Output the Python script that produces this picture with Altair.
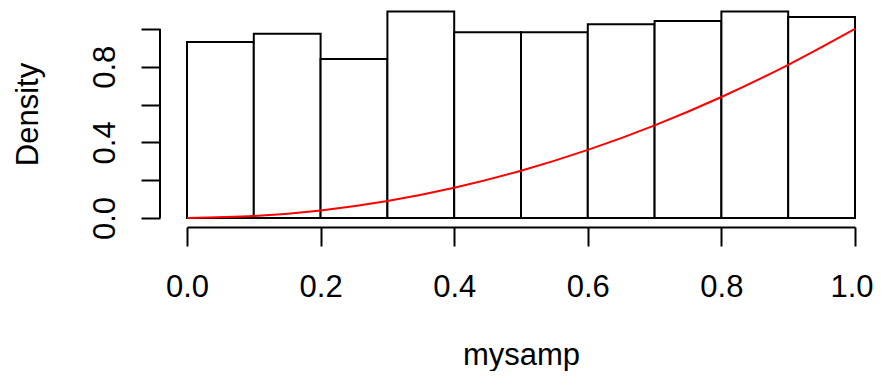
import altair as alt
import pandas as pd

# Histogram bins (density)
bin_start = [0.0, 0.1, 0.2, 0.3, 0.4, 0.5, 0.6, 0.7, 0.8, 0.9]
bin_end = [0.1, 0.2, 0.3, 0.4, 0.5, 0.6, 0.7, 0.8, 0.9, 1.0]
density = [0.931, 0.974, 0.841, 1.092, 0.982, 0.982, 1.024, 1.042, 1.092, 1.063]

# Red curve points
curve_x = [0.0, 0.1, 0.2, 0.3, 0.4, 0.5, 0.6, 0.7, 0.8, 0.9, 1.0]
curve_y = [0.0, 0.01, 0.04, 0.09, 0.16, 0.25, 0.36, 0.49, 0.64, 0.81, 1.0]

x_ticks = [0.0, 0.2, 0.4, 0.6, 0.8, 1.0]
y_ticks = [0.0, 0.2, 0.4, 0.6, 0.8, 1.0]

FONT = "Liberation Sans"
FS = 31

hist_df = pd.DataFrame({"start": bin_start, "end": bin_end, "density": density})
curve_df = pd.DataFrame({"x": curve_x, "y": curve_y})
yaxis_df = pd.DataFrame({"y0": [0.0], "y1": [1.0]})

xscale = alt.Scale(domain=[0, 1], nice=False, zero=False)
yscale = alt.Scale(domain=[0, 1.1], nice=False)

x_axis = alt.Axis(
    values=x_ticks, format=".1f", offset=9, tickSize=19, tickWidth=2,
    domainWidth=2, domainColor="black", tickColor="black", grid=False,
    labelFont=FONT, labelFontSize=FS, labelColor="black",
    labelBaseline="alphabetic", labelPadding=50, labelFlush=False,
    labelOverlap=False,
    labelOffset={"condition": {"test": "datum.value >= 0.99", "value": -3.5}, "value": 0},
    title="mysamp", titleFont=FONT, titleFontSize=FS,
    titleFontWeight="normal", titleColor="black", titleBaseline="alphabetic",
    titleX=334, titleY=137,
)

y_axis = alt.Axis(
    values=y_ticks, offset=27, tickSize=19, tickWidth=2, tickColor="black",
    domain=False, grid=False,
    labelExpr="(round(datum.value*10) % 4 == 0) ? format(datum.value, '.1f') : ''",
    labelFont=FONT, labelFontSize=FS, labelColor="black", labelAngle=-90,
    labelAlign="center", labelBaseline="alphabetic", labelPadding=27,
    labelFlush=False, labelOverlap=False,
    title="Density", titleFont=FONT, titleFontSize=FS, titleFontWeight="normal",
    titleColor="black", titleAngle=-90, titleAlign="center",
    titleBaseline="alphabetic", titleX=-123, titleY=104,
)

bars = alt.Chart(hist_df).mark_rect(
    fill="white", stroke="black", strokeWidth=2
).encode(
    x=alt.X("start:Q", scale=xscale, axis=x_axis),
    x2="end:Q",
    y=alt.Y("density:Q", scale=yscale, axis=y_axis),
    y2=alt.datum(0),
)

curve = alt.Chart(curve_df).mark_line(
    color="red", strokeWidth=2, interpolate="monotone"
).encode(
    x=alt.X("x:Q", scale=xscale),
    y=alt.Y("y:Q", scale=yscale),
)

yline = alt.Chart(yaxis_df).mark_rule(color="black", strokeWidth=2).encode(
    x=alt.value(-27),
    y=alt.Y("y0:Q", scale=yscale),
    y2="y1:Q",
)

chart = alt.layer(bars, curve, yline).properties(
    width=668,
    height=208,
    autosize=alt.AutoSizeParams(type="none"),
    padding={"left": 179, "top": 2, "right": 18, "bottom": 153},
    background="white",
).configure_view(stroke=None)

chart.save("out.html", embed_options={"renderer": "svg", "actions": False})
